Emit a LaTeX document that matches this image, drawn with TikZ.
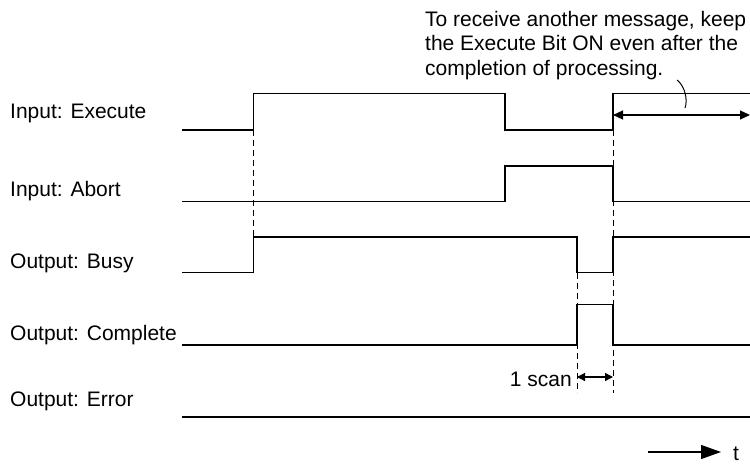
\documentclass[tikz,border=0pt]{standalone}
\usepackage{fontspec}
\setmainfont{Liberation Sans}
\usetikzlibrary{arrows.meta}
\begin{document}
\begin{tikzpicture}[x=1pt,y=-1pt,
  signal/.style={line width=1.3pt, line join=miter},
  guide/.style={line width=1pt, dash pattern=on 6pt off 4pt},
  lbl/.style={inner sep=0pt, font=\fontsize{21}{24.5}\selectfont},
  span/.style={line width=1.2pt, {Triangle[length=10pt,width=9pt]}-{Triangle[length=10pt,width=9pt]}},
  scanspan/.style={line width=1.2pt, {Triangle[length=8pt,width=8pt]}-{Triangle[length=8pt,width=8pt]}},
]
\useasboundingbox (0,0) rectangle (750,466);

% time instants
\def\tStart{182}
\def\tExec{253.5}
\def\tAbort{505}
\def\tDone{577}
\def\tNext{613}
\def\tEnd{750}
% signal levels (low / high)
\def\exLo{130}  \def\exHi{93.5}
\def\abLo{201.7}\def\abHi{166}
\def\buLo{272.7}\def\buHi{237}
\def\coLo{345}  \def\coHi{304.3}
\def\erLo{417}

% signal names
\node[lbl, anchor=base west] (lexec)  at (10,118.3) {Input: Execute};
\node[lbl, anchor=base west] (labort) at (10,196.7) {Input: Abort};
\node[lbl, anchor=base west] (lbusy)  at (10,268.3) {Output: Busy};
\node[lbl, anchor=base west] (lcomp)  at (10,340)   {Output: Complete};
\node[lbl, anchor=base west] (lerr)   at (10,406.7) {Output: Error};

% vertical guide lines
\draw[guide] (\tExec,\exLo) -- (\tExec,\buHi);
\draw[guide] (\tDone,\buLo) -- (\tDone,392.7);
\draw[guide] (\tNext,\exLo) -- (\tNext,392.7);

% waveforms
\draw[signal] (\tStart,\exLo) -- (\tExec,\exLo) -- (\tExec,\exHi) -- (\tAbort,\exHi)
  -- (\tAbort,\exLo) -- (\tNext,\exLo) -- (\tNext,\exHi) -- (\tEnd,\exHi);
\draw[signal] (\tStart,\abLo) -- (\tAbort,\abLo) -- (\tAbort,\abHi) -- (\tNext,\abHi)
  -- (\tNext,\abLo) -- (\tEnd,\abLo);
\draw[signal] (\tStart,\buLo) -- (\tExec,\buLo) -- (\tExec,\buHi) -- (\tDone,\buHi)
  -- (\tDone,\buLo) -- (\tNext,\buLo) -- (\tNext,\buHi) -- (\tEnd,\buHi);
\draw[signal] (\tStart,\coLo) -- (\tDone,\coLo) -- (\tDone,\coHi) -- (\tNext,\coHi)
  -- (\tNext,\coLo) -- (\tEnd,\coLo);
\draw[signal] (\tStart,\erLo) -- (\tEnd,\erLo);

% note about keeping Execute ON
\node[lbl, anchor=base west] (note1) at (425,26)   {To receive another message, keep};
\node[lbl, anchor=base west] (note2) at (425,50.5) {the Execute Bit ON even after the};
\node[lbl, anchor=base west] (note3) at (425,75)   {completion of processing.};
\coordinate (leadA) at (677,80);
\coordinate (leadB) at (685,108);
\draw[line width=1pt] (leadA) .. controls (685,86) and (688,100) .. (leadB);
\coordinate (keepA) at (\tNext,115);
\coordinate (keepB) at (\tEnd,115);
\draw[span] (keepA) -- (keepB);

% one scan interval
\coordinate (scanA) at (\tDone,377);
\coordinate (scanB) at (\tNext,377);
\draw[scanspan] (scanA) -- (scanB);
\node[lbl, anchor=base east] (scan) at (572,386.7) {1 scan};

% time axis
\coordinate (tA) at (648,452);
\coordinate (tB) at (721,452);
\draw[line width=1.2pt, -{Triangle[length=20pt,width=14pt]}] (tA) -- (tB);
\node[lbl, anchor=base west] (tlbl) at (733,460) {t};
\end{tikzpicture}
\end{document}
